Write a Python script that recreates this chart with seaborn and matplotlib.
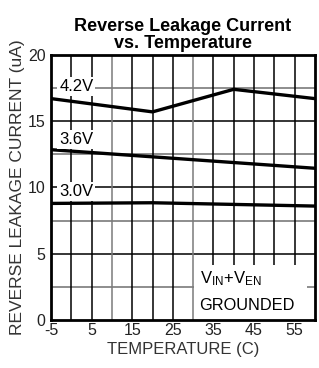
import numpy as np
import pandas as pd
import matplotlib
matplotlib.use("Agg")
import matplotlib.pyplot as plt
from matplotlib.patches import Rectangle
import seaborn as sns

# curve points
temp_42 = [-5, 20, 40, 60]
leak_42 = [16.7, 15.7, 17.4, 16.7]
temp_36 = [-5, 60]
leak_36 = [12.85, 11.45]
temp_30 = [-5, 20, 60]
leak_30 = [8.8, 8.85, 8.6]
curve_labels = ["4.2V", "3.6V", "3.0V"]
x_ticks = [-5, 5, 15, 25, 35, 45, 55]
y_ticks = [0, 5, 10, 15, 20]

df = pd.concat([
    pd.DataFrame({"temp": temp_42, "leak": leak_42, "vin": "4.2V"}),
    pd.DataFrame({"temp": temp_36, "leak": leak_36, "vin": "3.6V"}),
    pd.DataFrame({"temp": temp_30, "leak": leak_30, "vin": "3.0V"}),
])

sns.set_style("white")
plt.rcParams["font.family"] = ["Liberation Sans", "DejaVu Sans"]
plt.rcParams["axes.unicode_minus"] = False
plt.rcParams["text.color"] = "black"

fig = plt.figure(figsize=(3.19, 3.68), dpi=100)
ax = fig.add_axes([0.16, 0.13, 0.827, 0.721])

# grid: black every 5, gray at the in-between / selected lines
for y in [2.5, 7.5, 12.5, 17.5]:
    ax.axhline(y, color="#7a7a7a", lw=1.2, zorder=1)
for y in [5, 10, 15]:
    ax.axhline(y, color="black", lw=1.1, zorder=1)
for x in range(0, 60, 5):
    c = "#7a7a7a" if x in (10, 30) else "black"
    ax.axvline(x, color=c, lw=1.1, zorder=1)

sns.lineplot(data=df, x="temp", y="leak", hue="vin", palette=["black"] * 3,
             lw=2.4, legend=False, ax=ax, zorder=3)

ax.set_xlim(-5, 60)
ax.set_ylim(0, 20)
ax.set_xticks(x_ticks)
ax.set_yticks(y_ticks)
ax.tick_params(axis="both", direction="out", length=4, width=1, colors="black",
               labelcolor="#222222", labelsize=11.5, pad=0)
ax.tick_params(axis="x", length=0, pad=2)
for s in ax.spines.values():
    s.set_color("black")
    s.set_linewidth(2)
    s.set_zorder(5)

bbox = dict(facecolor="white", edgecolor="none", pad=1.5)
ax.text(-3.0, 17.6, curve_labels[0], fontsize=12, va="center", bbox=bbox, zorder=4)
ax.text(-3.0, 13.65, curve_labels[1], fontsize=12, va="center", bbox=bbox, zorder=4)
ax.text(-3.0, 9.7, curve_labels[2], fontsize=12, va="center", bbox=bbox, zorder=4)

# white note box in the lower right corner
ax.add_patch(Rectangle((30.25, 0), 27.9, 4.15, facecolor="white", edgecolor="none",
                       zorder=2))
ax.text(31.6, 2.45, r"V$\mathregular{_{IN}}$+V$\mathregular{_{EN}}$", fontsize=12,
        va="bottom", ha="left", zorder=4)
ax.text(31.5, 0.55, "GROUNDED", fontsize=11.8, va="bottom", ha="left", zorder=4)

ax.set_xlabel("TEMPERATURE (C)", fontsize=12, color="#333333", labelpad=3)
ax.set_ylabel("REVERSE LEAKAGE CURRENT (uA)", fontsize=12.5, color="#333333",
              labelpad=2)
ax.set_title("Reverse Leakage Current\nvs. Temperature", fontsize=13,
             fontweight="bold", color="black", linespacing=1.0, pad=5)

fig.savefig("out.png", dpi=100)
